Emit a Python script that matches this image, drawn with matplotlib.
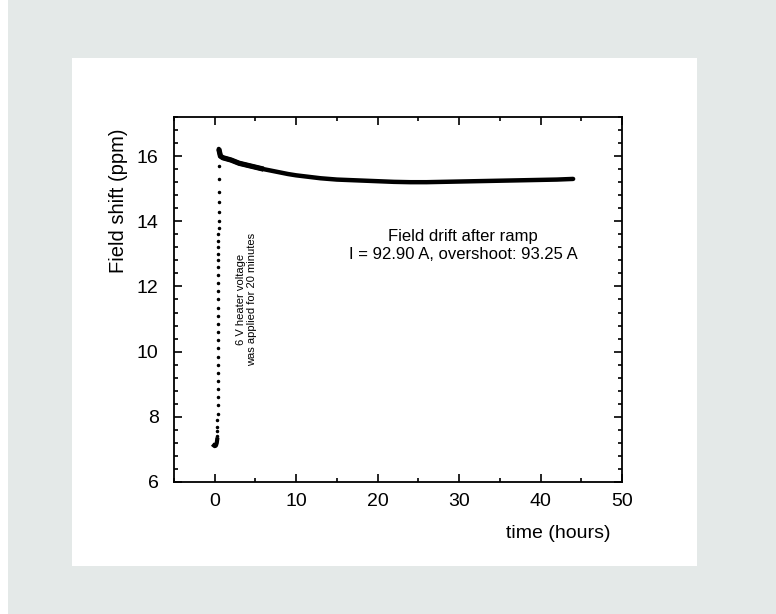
import matplotlib
matplotlib.use("Agg")
import matplotlib.pyplot as plt
from matplotlib.patches import Rectangle
from matplotlib.ticker import MultipleLocator, AutoMinorLocator

plt.rcParams['font.family'] = ['Liberation Sans', 'DejaVu Sans']

# baseline before the ramp-up (hours, ppm)
base_t = [-0.1, 0.0, 0.05, 0.1, 0.15, 0.2, 0.25, 0.3]
base_v = [7.12, 7.1, 7.13, 7.15, 7.12, 7.16, 7.2, 7.3]

# sparse points during the heater step
rise_t = [0.31, 0.32, 0.33, 0.34, 0.35, 0.35, 0.36, 0.36, 0.37, 0.37, 0.38, 0.38,
          0.39, 0.39, 0.40, 0.40, 0.41, 0.41, 0.42, 0.42, 0.43, 0.43, 0.44, 0.44,
          0.45, 0.45, 0.46, 0.46, 0.47, 0.47, 0.48, 0.48, 0.49, 0.49, 0.5]
rise_v = [7.4, 7.55, 7.7, 7.9, 8.1, 8.35, 8.6, 8.85, 9.1, 9.35, 9.6, 9.85,
          10.1, 10.35, 10.6, 10.85, 11.1, 11.35, 11.6, 11.85, 12.1, 12.35, 12.6, 12.8,
          13.0, 13.2, 13.4, 13.6, 13.8, 14.0, 14.3, 14.6, 14.9, 15.3, 15.7]

# drift after the ramp
drift_t = [0.5, 0.7, 1, 2, 3, 4, 5, 6, 7, 8, 9, 10, 11, 12, 13, 14, 15, 16, 17,
           18, 19, 20, 22, 24, 26, 28, 30, 32, 34, 36, 38, 40, 42, 44]
drift_v = [16.22, 16.0, 15.95, 15.88, 15.78, 15.72, 15.66, 15.6, 15.55, 15.5,
           15.45, 15.41, 15.38, 15.35, 15.32, 15.3, 15.28, 15.27, 15.26, 15.25,
           15.24, 15.23, 15.21, 15.2, 15.2, 15.21, 15.22, 15.23, 15.24, 15.25,
           15.26, 15.27, 15.28, 15.3]

fig = plt.figure(figsize=(7.76, 6.14), dpi=100)
fig.patch.set_facecolor('white')
W, H = 776, 614
fig.patches.append(Rectangle((8 / W, 0), 1, 1, transform=fig.transFigure,
                             facecolor='#e4e9e8', edgecolor='none', zorder=-2))
fig.patches.append(Rectangle((72 / W, (H - 566) / H), (697 - 72) / W, (566 - 58) / H,
                             transform=fig.transFigure, facecolor='white',
                             edgecolor='none', zorder=-1))

ax = fig.add_axes([174 / W, (H - 482) / H, (622 - 174) / W, (482 - 117) / H])
ax.set_facecolor('white')

ax.plot(base_t, base_v, color='black', lw=3)
ax.plot(rise_t, rise_v, 'o', color='black', ms=1.5)
ax.plot(drift_t[:8], drift_v[:8], color='black', lw=3.8, solid_capstyle='butt')
ax.plot(drift_t, drift_v, color='black', lw=3.2, solid_capstyle='round')

ax.set_xlim(-5, 50)
ax.set_ylim(6, 17.2)
ax.xaxis.set_major_locator(MultipleLocator(10))
ax.xaxis.set_minor_locator(MultipleLocator(5))
ax.yaxis.set_major_locator(MultipleLocator(2))
ax.yaxis.set_minor_locator(AutoMinorLocator(5))
ax.tick_params(which='both', direction='in', top=True, right=True, width=1.2)
ax.tick_params(which='major', length=6)
ax.tick_params(which='minor', length=3)
ax.tick_params(axis='x', labelsize=14, pad=8)
ax.tick_params(axis='y', labelsize=14, pad=11)
for s in ax.spines.values():
    s.set_linewidth(1.3)

ax.set_ylabel('Field shift (ppm)', fontsize=14.5)
ax.yaxis.set_label_coords(-0.103, 0.77)
ax.set_xlabel('time (hours)', fontsize=14)
ax.xaxis.set_label_coords(0.858, -0.118)

ax.text(30.5, 13.26, 'Field drift after ramp\nI = 92.90 A, overshoot: 93.25 A',
        ha='center', va='center', fontsize=12, linespacing=1.25)
ax.text(3.9, 11.6, '6 V heater voltage\nwas applied for 20 minutes',
        rotation=90, ha='center', va='center', fontsize=8, linespacing=1.15)

fig.savefig('out.png', dpi=100)
